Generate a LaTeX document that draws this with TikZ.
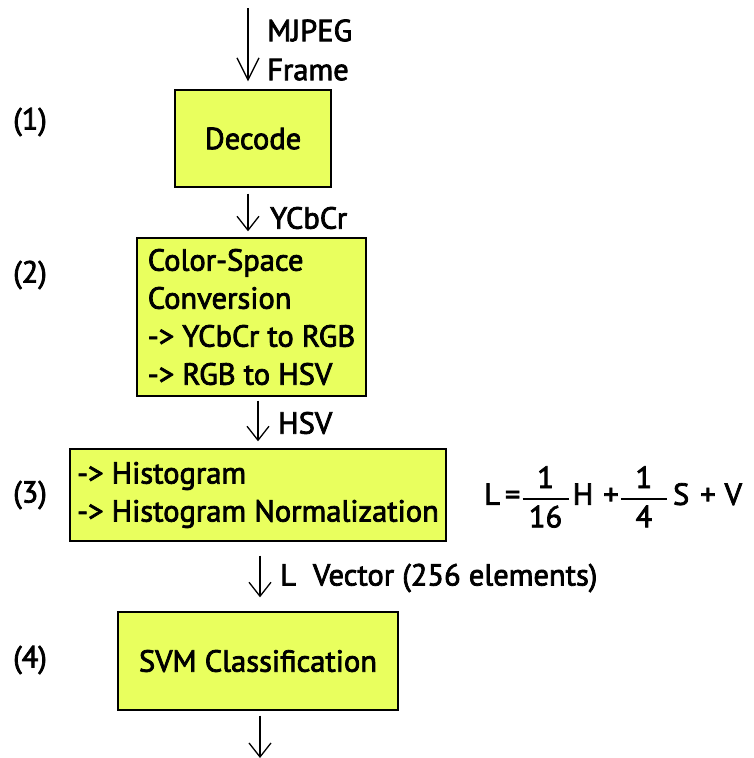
\documentclass[tikz,border=0pt]{standalone}
\usepackage{amsmath}
\usepackage{fontspec}
\setmainfont{PT Sans}[BoldFont={PT Sans},BoldFeatures={FakeBold=2.5}]
\usetikzlibrary{arrows.meta,positioning,calc}
\definecolor{blk}{HTML}{E9FF5E}
\newcommand{\tfr}[2]{$\genfrac{}{}{2pt}{0}{\makebox[46pt]{#1}}{\makebox[46pt]{#2}}$}
\tikzset{
  box/.style={draw=black,line width=1.4pt,fill=blk,align=left,inner sep=3pt},
  ar/.style={-{Straight Barb[length=14pt,width=22pt]},line width=1.3pt},
  lbl/.style={anchor=west,align=left,inner sep=0pt},
}

\begin{document}
\begin{tikzpicture}[x=1pt,y=-1pt,font=\fontsize{30.5}{38}\selectfont\bfseries]
\useasboundingbox (0,0) rectangle (753,758);
% stages
\node[box,minimum width=156pt,minimum height=97pt] (dec) at (253,138.5) {Decode};
\node[box,minimum width=229pt,minimum height=158pt] (csc) at (251.5,317) {Color-Space\\Conversion\\-> YCbCr to RGB\\-> RGB to HSV};
\node[box,minimum width=376pt,minimum height=92pt] (hist) at (258,495) {-> Histogram\\-> Histogram Normalization};
\node[box,minimum width=280pt,minimum height=98pt] (svm) at (258,661) {SVM Classification};
% step numbers
\node[lbl] (n1) at (13,122) {(1)};
\node[lbl] (n2) at (13,275) {(2)};
\node[lbl] (n3) at (13,495) {(3)};
\node[lbl] (n4) at (13,660) {(4)};
% free ends and arrow columns
\coordinate (in) at (248,8);
\coordinate (c3) at (258,0);
\coordinate (c4) at (260,0);
\coordinate (out) at (260,758);
\draw[ar,-{Straight Barb[length=22pt,width=22pt]},shorten >=8pt] (in) -- (dec.north -| in);
\draw[ar,shorten <=6pt,shorten >=6pt] (dec.south -| in) -- (csc.north -| in);
\draw[ar,shorten <=4pt,shorten >=7pt] (csc.south -| c3) -- (hist.north -| c3);
\draw[ar,shorten <=14pt,shorten >=14pt] (hist.south -| c4) -- (svm.north -| c4);
\draw[ar,shorten <=5pt] (svm.south -| c4) -- (out);
% arrow labels
\node[lbl,font=\fontsize{30.5}{39}\selectfont\bfseries] (lin) at (267,50) {MJPEG\\Frame};
\node[lbl] (lyc) at (270,218) {YCbCr};
\node[lbl] (lhsv) at (278,423) {HSV};
\node[lbl] (lvec) at (280,578) {L\hspace{17pt}Vector (256 elements)};
% formula
\node[lbl] (frm) at (484,497) {L\hspace{5pt}=\hspace{1pt}\tfr{1}{16}\hspace{3pt}H\hspace{10pt}+\hspace{1pt}\tfr{1}{4}\hspace{5pt}S\hspace{11pt}+\hspace{9pt}V};
\end{tikzpicture}
\end{document}
